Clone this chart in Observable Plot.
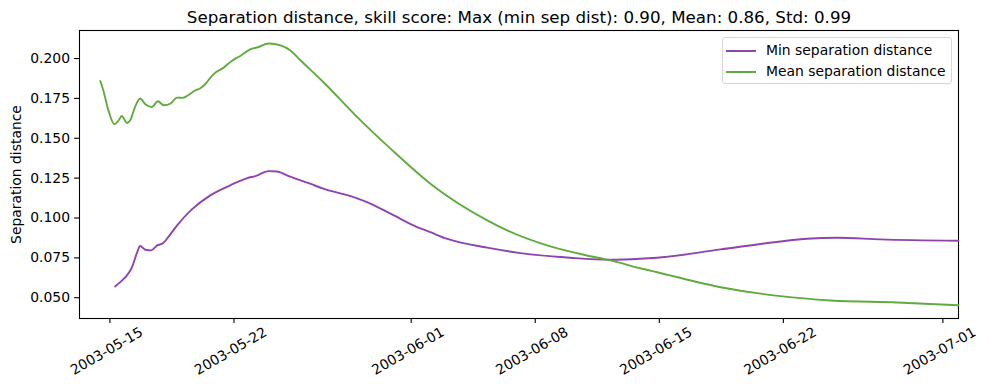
<!DOCTYPE html>
<html>
<head>
<meta charset="utf-8">
<script src="https://cdn.jsdelivr.net/npm/d3@7"></script>
<script src="https://cdn.jsdelivr.net/npm/@observablehq/plot@0.6"></script>
<style>
  body { margin: 0; background: #fff; font-family: "DejaVu Sans", sans-serif; }
  #wrap { position: relative; width: 989px; height: 390px; }
  #legend { position: absolute; left: 722px; top: 37px; width: 228px; height: 45px;
    border: 1px solid #d6d6d6; border-radius: 3px; background: rgba(255,255,255,0.8);
    font-size: 13.9px; color: #000; }
  .row { position: absolute; left: 0; height: 20px; width: 100%; }
  .row span.sw { position: absolute; left: 3px; top: 9px; width: 30px; height: 0; border-top: 2px solid; }
  .row span.lb { position: absolute; left: 43px; top: 1px; white-space: nowrap; }
</style>
</head>
<body>
<div id="wrap"></div>
<script>
const titleText = "Separation distance, skill score: Max (min sep dist): 0.90, Mean: 0.86, Std: 0.99";
const yLabel = "Separation distance";
const seriesNames = ["Min separation distance", "Mean separation distance"];
const seriesColors = ["#8e44ad", "#60ab3f"];

const minTimes = ["2003-05-15 07","2003-05-15 14","2003-05-15 21","2003-05-16 06","2003-05-16 13","2003-05-16 17","2003-05-17 00","2003-05-17 08","2003-05-17 16","2003-05-18 00","2003-05-18 07","2003-05-18 19","2003-05-19 15","2003-05-20 16","2003-05-21 19","2003-05-22 18","2003-05-23 05","2003-05-23 23","2003-05-24 10","2003-05-25 04","2003-05-26 07","2003-05-27 01","2003-05-28 18","2003-05-29 12","2003-05-30 20","2003-06-01 08","2003-06-02 02","2003-06-03 00","2003-06-05 07","2003-06-07 04","2003-06-09 23","2003-06-12 06","2003-06-13 22","2003-06-14 21","2003-06-18 11","2003-06-21 20","2003-06-23 08","2003-06-25 01","2003-06-27 11","2003-07-01 21"];
const minValues = [0.0571,0.0598,0.0629,0.0692,0.0786,0.0824,0.0801,0.0797,0.0828,0.0842,0.0880,0.0954,0.1054,0.1142,0.1205,0.1250,0.1263,0.1294,0.1292,0.1259,0.1215,0.1184,0.1131,0.1100,0.1027,0.0943,0.0911,0.0870,0.0814,0.0780,0.0751,0.0738,0.0744,0.0751,0.0803,0.0853,0.0870,0.0876,0.0866,0.0857];

const meanTimes = ["2003-05-14 11","2003-05-14 15","2003-05-14 22","2003-05-15 06","2003-05-15 12","2003-05-15 16","2003-05-15 23","2003-05-16 04","2003-05-16 10","2003-05-16 17","2003-05-17 00","2003-05-17 09","2003-05-17 17","2003-05-18 01","2003-05-18 10","2003-05-18 19","2003-05-19 02","2003-05-19 10","2003-05-19 20","2003-05-20 02","2003-05-20 09","2003-05-20 20","2003-05-21 10","2003-05-21 21","2003-05-22 08","2003-05-22 22","2003-05-23 07","2003-05-23 23","2003-05-24 15","2003-05-25 04","2003-05-25 18","2003-05-27 01","2003-05-28 23","2003-05-30 20","2003-06-02 02","2003-06-05 07","2003-06-06 10","2003-06-08 16","2003-06-10 22","2003-06-12 06","2003-06-13 22","2003-06-14 21","2003-06-18 11","2003-06-21 20","2003-06-24 16","2003-06-28 10","2003-07-01 21"];
const meanValues = [0.1859,0.1801,0.1675,0.1588,0.1613,0.1640,0.1596,0.1617,0.1696,0.1749,0.1713,0.1696,0.1732,0.1707,0.1717,0.1755,0.1753,0.1770,0.1801,0.1812,0.1839,0.1901,0.1943,0.1985,0.2014,0.2058,0.2069,0.2094,0.2082,0.2052,0.1989,0.1853,0.1633,0.1435,0.1215,0.0985,0.0922,0.0828,0.0765,0.0734,0.0685,0.0660,0.0566,0.0510,0.0483,0.0470,0.0453];

const xTickLabels = ["2003-05-15","2003-05-22","2003-06-01","2003-06-08","2003-06-15","2003-06-22","2003-07-01"];
const yTicks = [0.050,0.075,0.100,0.125,0.150,0.175,0.200];

const parseT = d3.utcParse("%Y-%m-%d %H");
const parseD = d3.utcParse("%Y-%m-%d");
const minData = minTimes.map((t,i) => ({date: parseT(t), value: minValues[i], series: seriesNames[0]}));
const meanData = meanTimes.map((t,i) => ({date: parseT(t), value: meanValues[i], series: seriesNames[1]}));
const xTicks = xTickLabels.map(parseD);

const chart = Plot.plot({
  width: 989,
  height: 390,
  marginLeft: 79,
  marginRight: 31,
  marginTop: 30,
  marginBottom: 72,
  style: {fontFamily: "DejaVu Sans", fontSize: "13.9px", color: "#000", background: "#fff", overflow: "visible"},
  x: {type: "utc", domain: [new Date(Date.UTC(2003,4,13,6,50)), new Date(Date.UTC(2003,6,1,21,10))]},
  y: {domain: [0.03697, 0.21758]},
  marks: [
    Plot.frame({stroke: "#000", strokeWidth: 1.1}),
    Plot.axisY({ticks: yTicks, tickFormat: d3.format(".3f"), tickSize: 4.9, tickPadding: 4.6, label: null, strokeWidth: 1.1}),
    Plot.axisX({ticks: xTicks, tickFormat: () => "", tickSize: 4.9, label: null, strokeWidth: 1.1}),
    Plot.text(xTicks, {x: d => d, frameAnchor: "bottom", dy: 36.5, dx: -1, rotate: -30, text: (d,i) => xTickLabels[i], fill: "#000"}),
    Plot.text([yLabel], {frameAnchor: "left", dx: -63, rotate: -90, textAnchor: "middle", fill: "#000"}),
    Plot.text([titleText], {frameAnchor: "top", dy: -8, lineAnchor: "bottom", fontSize: 16.7, fill: "#000"}),
    Plot.line(minData, {x: "date", y: "value", stroke: seriesColors[0], strokeWidth: 1.9, curve: "monotone-x"}),
    Plot.line(meanData, {x: "date", y: "value", stroke: seriesColors[1], strokeWidth: 1.9, curve: "monotone-x"})
  ]
});
const wrap = document.getElementById("wrap");
wrap.appendChild(chart);

const legend = document.createElement("div");
legend.id = "legend";
seriesNames.forEach((name, i) => {
  const row = document.createElement("div");
  row.className = "row";
  row.style.top = (3 + i * 21) + "px";
  const sw = document.createElement("span");
  sw.className = "sw";
  sw.style.borderTopColor = seriesColors[i];
  const lb = document.createElement("span");
  lb.className = "lb";
  lb.textContent = name;
  row.appendChild(sw); row.appendChild(lb);
  legend.appendChild(row);
});
wrap.appendChild(legend);
</script>
</body>
</html>
